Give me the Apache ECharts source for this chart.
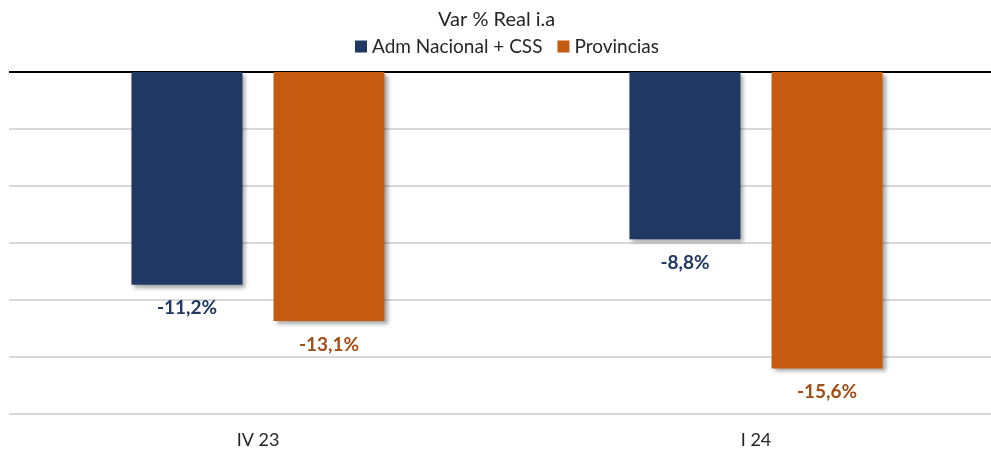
<!DOCTYPE html>
<html>
<head>
<meta charset="utf-8">
<script src="https://cdn.jsdelivr.net/npm/echarts@6/dist/echarts.min.js"></script>
<style>
  html, body { margin: 0; padding: 0; background: #fff; }
  #chart { width: 991px; height: 450px; }
</style>
</head>
<body>
<div id="chart"></div>
<script>
const categories = ["IV 23", "I 24"];
const seriesNames = ["Adm Nacional + CSS", "Provincias"];
const admNacional = [-11.2, -8.8];
const provincias = [-13.1, -15.6];

const chart = echarts.init(document.getElementById("chart"));

// zero line black, other split lines light gray (ticks counted from min)
const splitColors = ["#d9d9d9", "#d9d9d9", "#d9d9d9", "#d9d9d9", "#d9d9d9", "#d9d9d9", "#000000"];

const barShadow = {
  shadowBlur: 4,
  shadowOffsetX: 3,
  shadowOffsetY: 3,
  shadowColor: "rgba(0,0,0,0.35)"
};

const pct = p => p.value.toFixed(1).replace(".", ",") + "%";

chart.setOption({
  animation: false,
  textStyle: { fontFamily: "Lato" },
  title: {
    text: "Var % Real i.a",
    left: 438,
    top: 10,
    padding: 0,
    textStyle: { fontFamily: "Lato", fontSize: 20, fontWeight: "normal", color: "#262626" }
  },
  legend: {
    data: seriesNames,
    top: 37,
    left: 355,
    padding: 0,
    itemWidth: 12,
    itemHeight: 12,
    itemGap: 15,
    icon: "rect",
    textStyle: { fontFamily: "Lato", fontSize: 19, color: "#262626" }
  },
  grid: {
    top: 72,
    left: 9,
    width: 996,
    height: 342,
    outerBoundsMode: "none"
  },
  xAxis: {
    type: "category",
    data: categories,
    position: "bottom",
    axisLine: { show: false },
    axisTick: { show: false },
    axisLabel: { fontFamily: "Lato", fontSize: 18, color: "#262626", margin: 17 }
  },
  yAxis: {
    type: "value",
    min: -18,
    max: 0,
    interval: 3,
    axisLabel: { show: false },
    axisLine: { show: false },
    axisTick: { show: false },
    splitLine: { lineStyle: { color: splitColors, width: 2 } }
  },
  series: [
    {
      name: seriesNames[0],
      type: "bar",
      data: admNacional,
      barWidth: 111,
      barGap: "28%",
      itemStyle: Object.assign({ color: "#203864" }, barShadow),
      label: {
        show: true,
        position: "bottom",
        distance: 14,
        fontFamily: "Lato",
        fontSize: 19,
        fontWeight: "bold",
        color: "#203864",
        formatter: pct
      }
    },
    {
      name: seriesNames[1],
      type: "bar",
      data: provincias,
      barWidth: 111,
      itemStyle: Object.assign({ color: "#C55A11" }, barShadow),
      label: {
        show: true,
        position: "bottom",
        distance: 14,
        fontFamily: "Lato",
        fontSize: 19,
        fontWeight: "bold",
        color: "#A24D14",
        formatter: pct
      }
    }
  ]
});
</script>
</body>
</html>
